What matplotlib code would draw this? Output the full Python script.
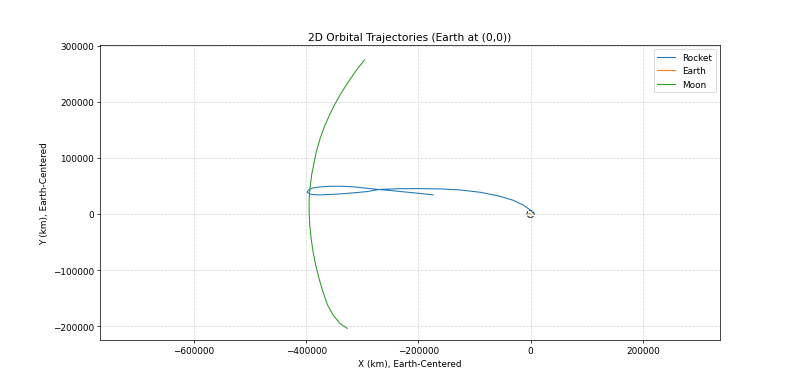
import matplotlib
matplotlib.use("Agg")
import matplotlib.pyplot as plt
from matplotlib.patches import Circle

# Rocket trajectory (km), Earth-centered
rocket_x = [5000, 3400, -1400, -13400, -31200, -54900, -90500, -126200, -161800,
            -200000, -233100, -268700, -292400, -316000, -340000, -360000, -375600,
            -388000, -393400, -398300, -396000, -393400, -385000, -375600, -360000,
            -340000, -315000, -292400, -268700, -250000, -233100, -205000, -173700]
rocket_y = [1000, 3000, 7700, 16000, 24400, 31500, 38700, 42800, 44600,
            45100, 44900, 43700, 39700, 37500, 35600, 34500, 33900,
            34300, 35600, 38700, 42000, 44600, 46800, 48100, 49100,
            49400, 48200, 45800, 43300, 41800, 40000, 37300, 33900]

# Earth trajectory (km)
earth_x = [0, -1500, -3000]
earth_y = [0, 600, 1200]

# Moon trajectory (km)
moon_x = [-296000, -311000, -323300, -335600, -348500, -357500, -366600, -374400,
          -381500, -386300, -389900, -392200, -393500, -394700, -394700, -393500,
          -391000, -387600, -382800, -376900, -369800, -362000, -352000, -340000,
          -327000]
moon_y = [274400, 255400, 237500, 218700, 196000, 178200, 157400, 136700,
          112800, 89100, 71300, 53500, 41500, 26700, 3000, -20800,
          -44600, -68300, -92100, -115800, -139500, -162000, -180000, -195000,
          -204000]

earth_radius = 6371

fig, ax = plt.subplots(figsize=(12.5, 5.984), dpi=64)
ax.plot(rocket_x, rocket_y, label="Rocket", color="tab:blue", linewidth=1.2)
ax.plot(earth_x, earth_y, label="Earth", color="tab:orange", linewidth=1.2)
ax.plot(moon_x, moon_y, label="Moon", color="tab:green", linewidth=1.2)
ax.add_patch(Circle((0, 0), earth_radius, fill=False, color="black",
                    linestyle="--", linewidth=1.0))

ax.set_xlim(-767500, 337700)
ax.set_ylim(-224400, 301000)
ax.set_title("2D Orbital Trajectories (Earth at (0,0))")
ax.set_xlabel("X (km), Earth-Centered")
ax.set_ylabel("Y (km), Earth-Centered")
ax.grid(True, linestyle="--", alpha=0.5)
ax.legend(loc="upper right")

fig.savefig("out.png", dpi=64)
